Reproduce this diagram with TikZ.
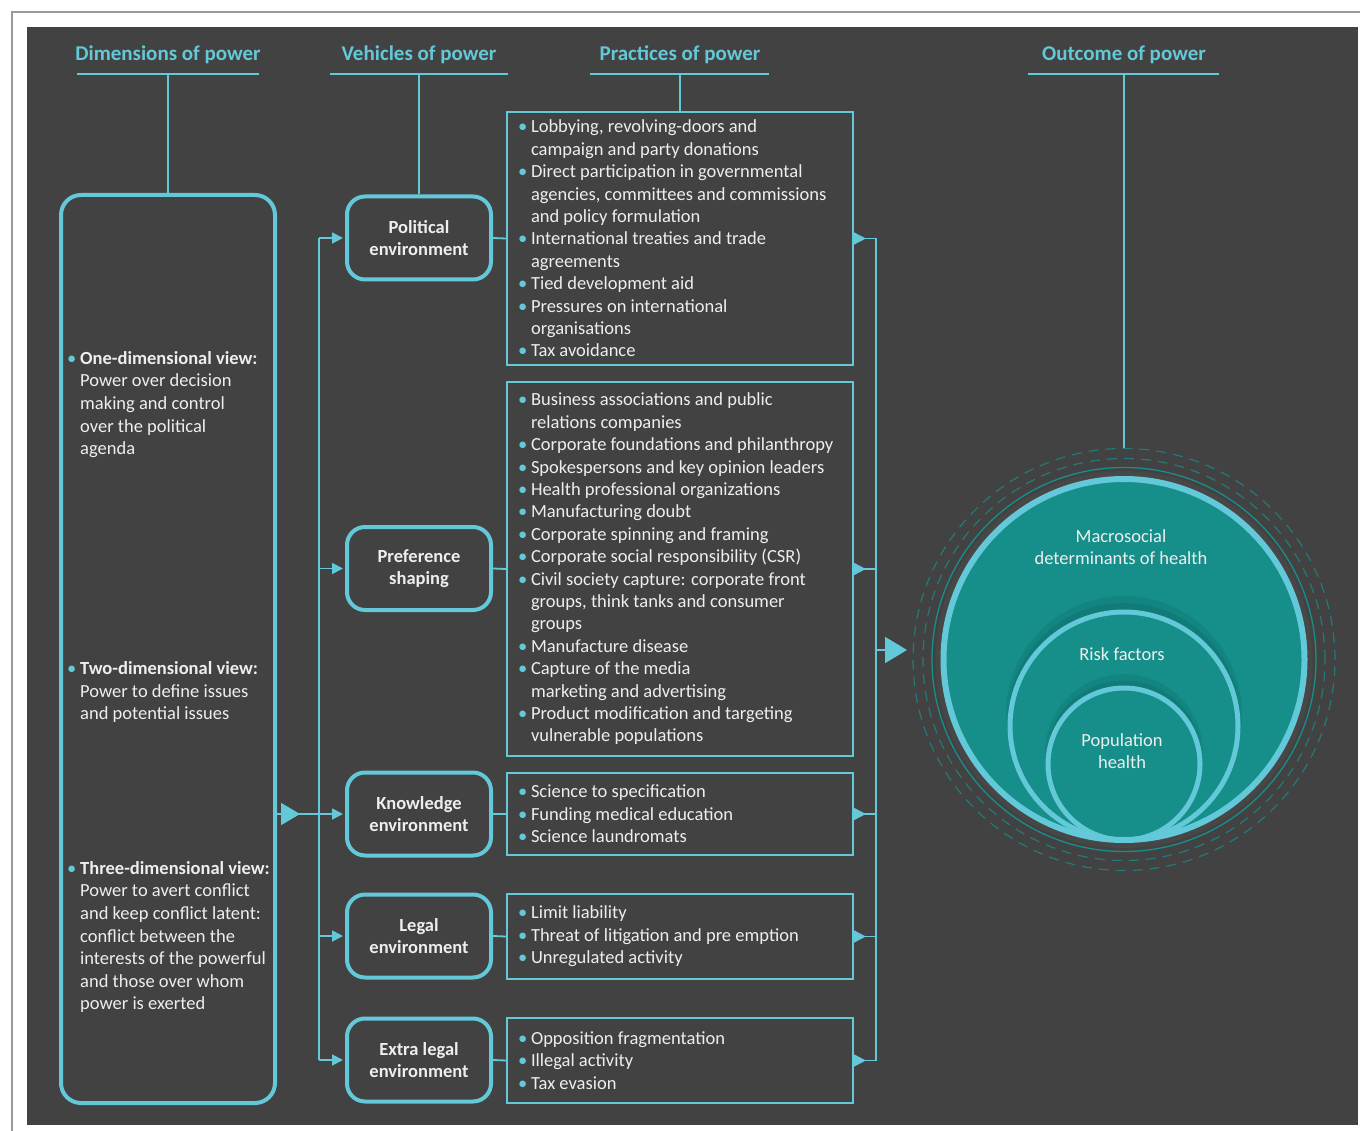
\documentclass[tikz,border=0pt]{standalone}
\usepackage{fontspec}
\setmainfont{Carlito}
\usetikzlibrary{arrows.meta,calc,decorations.markings}
\definecolor{bg}{HTML}{424242}
\definecolor{cy}{HTML}{63C9D9}
\definecolor{tealA}{HTML}{168F8B}
\definecolor{tealB}{HTML}{0E6F6C}
\definecolor{dsh}{HTML}{267879}
\definecolor{txt}{HTML}{EEEEEE}
\definecolor{frame}{HTML}{9A9A9A}
\newcommand\bl[1]{\par\noindent\hbox{\makebox[13pt][l]{\textcolor{cy}{•}}#1}}
\newcommand\cl[1]{\par\noindent\hbox{\hspace*{13pt}#1}}
\newcommand\bh[1]{\par\noindent\hbox{\makebox[13pt][l]{\textcolor{cy}{•}}\textbf{#1}}}
\begin{document}
\begin{tikzpicture}[x=1pt,y=-1pt,
  hdr/.style={text=cy,font=\fontsize{21}{25}\selectfont\bfseries,inner sep=0pt},
  hline/.style={cy,line width=2.5pt},
  conn/.style={cy,line width=1.8pt},
  veh/.style={draw=cy,line width=4pt,rounded corners=18pt,minimum width=144pt,minimum height=83pt,
    text=txt,align=center,font=\fontsize{18.5}{22.3}\selectfont\bfseries,inner sep=0pt},
  prac/.style={draw=cy,line width=1.8pt,minimum width=346pt,text=txt,inner sep=0pt,
    font=\fontsize{18.5}{22.4}\selectfont},
  grp/.style={text=txt,inner sep=0pt,anchor=west,font=\fontsize{18.5}{22.6}\selectfont},
  ctext/.style={text=txt,align=center,inner sep=0pt,font=\fontsize{18.5}{22.3}\selectfont},
  smallarrow/.style={postaction={decorate},decoration={markings,
    mark=at position 12pt with {\arrow{Triangle[length=12pt,width=12pt]}}}},
  bigarrow/.style={postaction={decorate},decoration={markings,
    mark=at position 23pt with {\arrow{Triangle[length=19pt,width=22pt]}}}}
]
\useasboundingbox (0,0) rectangle (1360,1131);
\draw[frame,line width=1.2pt] (12,1131) -- (12,12) -- (1360,12);
\fill[bg] (27,27) rectangle (1358,1125);

% headers
\node[hdr] (h1) at (168,54.5) {Dimensions of power};
\node[hdr] (h2) at (419,54.5) {Vehicles of power};
\node[hdr] (h3) at (680,54.5) {Practices of power};
\node[hdr] (h4) at (1124,54.5) {Outcome of power};
\draw[hline] (77,74) -- (259,74);
\draw[hline] (330,74) -- (508,74);
\draw[hline] (590,74) -- (769,74);
\draw[hline] (1028,74) -- (1219,74);
\coordinate (u1) at (168,74);
\coordinate (u2) at (419,74);
\coordinate (u3) at (680,74);
\coordinate (u4) at (1124,74);

% dimensions box
\node[draw=cy,line width=4pt,rounded corners=20pt,minimum width=214pt,minimum height=908pt,inner sep=0pt] (dim) at (168,649) {};
\node[grp] (g1) at (67,404.5) {\parbox{200pt}{\bh{One-dimensional view:}\cl{Power over decision}\cl{making and control}\cl{over the political}\cl{agenda}}};
\node[grp] (g2) at (67,692) {\parbox{200pt}{\bh{Two-dimensional view:}\cl{Power to define issues}\cl{and potential issues}}};
\node[grp] (g3) at (67,937) {\parbox{205pt}{\bh{Three-dimensional view:}\cl{Power to avert conflict}\cl{and keep conflict latent:}\cl{conflict between the}\cl{interests of the powerful}\cl{and those over whom}\cl{power is exerted}}};

% vehicles
\node[veh] (pol) at (419,238) {Political\\environment};
\node[veh] (pref) at (419,568.5) {Preference\\shaping};
\node[veh] (know) at (419,814) {Knowledge\\environment};
\node[veh] (legal) at (419,936) {Legal\\environment};
\node[veh] (extra) at (419,1060) {Extra legal\\environment};

% practices
\node[prac,minimum height=253pt] (p1) at (680,238.5) {\parbox{324pt}{%
\bl{Lobbying, revolving-doors and}\cl{campaign and party donations}%
\bl{Direct participation in governmental}\cl{agencies, committees and commissions}\cl{and policy formulation}%
\bl{International treaties and trade}\cl{agreements}%
\bl{Tied development aid}%
\bl{Pressures on international}\cl{organisations}%
\bl{Tax avoidance}}};
\node[prac,minimum height=374pt] (p2) at (680,569) {\parbox{324pt}{%
\bl{Business associations and public}\cl{relations companies}%
\bl{Corporate foundations and philanthropy}%
\bl{Spokespersons and key opinion leaders}%
\bl{Health professional organizations}%
\bl{Manufacturing doubt}%
\bl{Corporate spinning and framing}%
\bl{Corporate social responsibility (CSR)}%
\bl{Civil society capture: corporate front}\cl{groups, think tanks and consumer}\cl{groups}%
\bl{Manufacture disease}%
\bl{Capture of the media}\cl{marketing and advertising}%
\bl{Product modification and targeting}\cl{vulnerable populations}}};
\node[prac,minimum height=82pt] (p3) at (680,814) {\parbox{324pt}{%
\bl{Science to specification}\bl{Funding medical education}\bl{Science laundromats}}};
\node[prac,minimum height=85pt] (p4) at (680,936.5) {\parbox{324pt}{%
\bl{Limit liability}\bl{Threat of litigation and pre emption}\bl{Unregulated activity}}};
\node[prac,minimum height=85pt] (p5) at (680,1060.5) {\parbox{324pt}{%
\bl{Opposition fragmentation}\bl{Illegal activity}\bl{Tax evasion}}};

% header stems
\draw[conn] (u1) -- (dim.north);
\draw[conn] (u2) -- (pol.north);
\draw[conn] (u3) -- (p1.north);
\coordinate (ctop) at (1124,448);
\draw[conn] (u4) -- (ctop);

% left bus
\coordinate (lbT) at (319,238);
\coordinate (lbB) at (319,1060);
\draw[conn] (lbT) -- (lbB);
\foreach \v in {pol,pref,know,legal,extra}{
  \draw[conn,shorten >=2pt,-{Triangle[length=11pt,width=11pt]}] (lbT |- \v.west) -- (\v.west);
}
\draw[conn,bigarrow] (dim.east |- know.west) -- (lbT |- know.west);

% vehicle -> practice
\draw[conn] (pol.east) -- (p1.west);
\draw[conn] (pref.east) -- (p2.west);
\draw[conn] (know.east) -- (p3.west);
\draw[conn] (legal.east) -- (p4.west);
\draw[conn] (extra.east) -- (p5.west);

% right bus
\coordinate (rbT) at (876,238.5);
\coordinate (rbB) at (876,1060.5);
\draw[conn] (rbT) -- (rbB);
\foreach \p in {p1,p2,p3,p4,p5}{
  \draw[conn,smallarrow] (\p.east) -- (rbT |- \p.east);
}
\coordinate (rbM) at (876,650);
\coordinate (aim) at (907,650);
\draw[conn,-{Triangle[length=22pt,width=26pt]}] (rbM) -- (aim);

% outcome circles
\coordinate (O) at (1124,659.5);
\draw[dsh,line width=1.2pt,dash pattern=on 10pt off 7pt] (O) circle[radius=211pt];
\draw[dsh,line width=1.2pt,dash pattern=on 10pt off 7pt] (O) circle[radius=201pt];
\draw[tealA,line width=1.3pt] (O) circle[radius=192pt];
\fill[black!72] (O) circle[radius=188.5pt];
\fill[tealA] (O) circle[radius=181pt];
% shadow middle
\fill[tealB,opacity=0.3] (1124,714) circle[radius=118pt];
\fill[tealB,opacity=0.45] (1124,719) circle[radius=116pt];
\fill[tealA] (1124,726) circle[radius=114pt];
% shadow inner
\fill[tealB,opacity=0.3] (1124,753) circle[radius=79pt];
\fill[tealB,opacity=0.45] (1124,758) circle[radius=77.5pt];
\fill[tealA] (1124,764) circle[radius=76pt];
\draw[cy,line width=5pt] (1124,726) circle[radius=114pt];
\draw[cy,line width=5pt] (1124,764) circle[radius=76pt];
\draw[cy,line width=6pt] (O) circle[radius=180.5pt];

\node[ctext] (macro) at (1121,547) {Macrosocial\\determinants of health};
\node[ctext] (risk) at (1122,654) {Risk factors};
\node[ctext] (popu) at (1122,751) {Population\\health};
\end{tikzpicture}
\end{document}
